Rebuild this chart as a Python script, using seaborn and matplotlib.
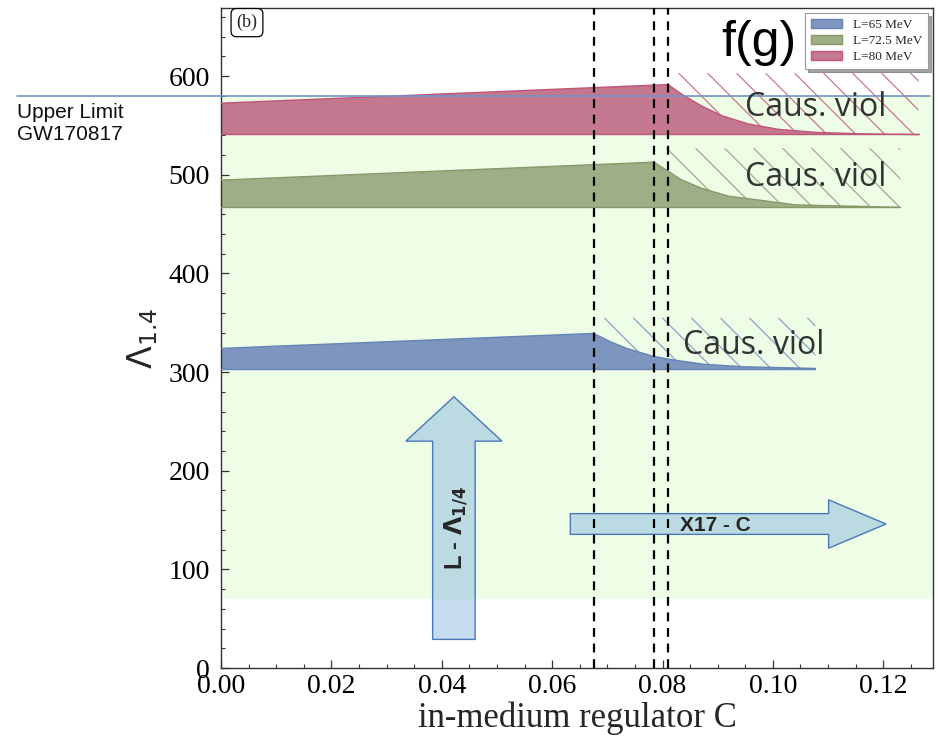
import numpy as np
import pandas as pd
import matplotlib
matplotlib.use("Agg")
import matplotlib.pyplot as plt
import seaborn as sns
from matplotlib.patches import FancyArrow, Patch
from matplotlib.lines import Line2D
from matplotlib.ticker import MultipleLocator

# ---------------- data ----------------
c65 = [0.0, 0.0675, 0.0705, 0.0735, 0.0783, 0.0814, 0.0874, 0.0946, 0.1077]
lam65 = [324.0, 339.2, 330.9, 324.0, 316.0, 312.8, 308.0, 305.4, 303.7]
base65 = 303.0
hatch_top65 = 355.0

c725 = [0.0, 0.0784, 0.0810, 0.0834, 0.0870, 0.0919, 0.0980, 0.1041, 0.1231]
lam725 = [494.6, 512.8, 503.7, 495.0, 486.5, 478.4, 474.0, 469.5, 467.0]
base725 = 467.0
hatch_top725 = 527.0

c80 = [0.0, 0.0810, 0.0834, 0.0870, 0.0907, 0.0956, 0.1011, 0.1078, 0.1164, 0.1264]
lam80 = [572.6, 591.5, 582.0, 570.0, 560.0, 551.5, 546.0, 543.0, 541.5, 540.8]
base80 = 541.0
hatch_top80 = 603.0

series_labels = ["L=65 MeV", "L=72.5 MeV", "L=80 MeV"]
fill_colors = ["#7d95bf", "#9eae86", "#c47890"]
edge_colors = ["#6584b5", "#85996a", "#c0557a"]
hatch_colors = ["#7d95bf", "#8ea07a", "#c4607e"]

upper_limit = 580.0
green_band = (70.0, 580.0)
vlines_c = [0.0675, 0.0785, 0.0810]

caus_pos = [(0.0966, 327.0), (0.1077, 497.6), (0.1077, 568.6)]

# ---------------- figure ----------------
sns.set_theme(style="ticks")
plt.rcParams["font.family"] = ["Liberation Serif", "DejaVu Sans"]
plt.rcParams["mathtext.fontset"] = "dejavusans"

fig = plt.figure(figsize=(9.38, 7.37), dpi=100)
ax = fig.add_axes([0.2356, 0.0936, 0.759, 0.8954])

ax.set_xlim(0, 0.129)
ax.set_ylim(0, 669)

# green allowed region
ax.axhspan(green_band[0], green_band[1], color="#eefde6", zorder=0, lw=0)

# upper limit line, extends into left margin
ax.axhline(upper_limit, xmin=-0.2865, xmax=0.9958, color="#6f95c2", lw=1.2,
           clip_on=False, zorder=5)

bands = [
    (c65, lam65, base65, hatch_top65),
    (c725, lam725, base725, hatch_top725),
    (c80, lam80, base80, hatch_top80),
]

W_px, H_px = 712.0, 660.0
spacing = 29.0 / W_px
for i, (cx, ly, base, htop) in enumerate(bands):
    cx = np.asarray(cx); ly = np.asarray(ly)
    ax.fill_between(cx, base, ly, facecolor=fill_colors[i], edgecolor="none", zorder=2)
    df = pd.DataFrame({"C": cx, "Lambda": ly})
    sns.lineplot(data=df, x="C", y="Lambda", ax=ax, color=edge_colors[i], lw=1.0,
                 zorder=3, estimator=None, sort=False)
    ax.plot([cx[0], cx[-1]], [base, base], color=edge_colors[i], lw=1.0, zorder=3)
    # hatched causality-violation region above the falling part
    k = int(np.argmax(ly))
    hx = cx[k:]; hy = ly[k:]
    coll = ax.fill_between(hx, hy, htop, facecolor="none", edgecolor="none", zorder=1)
    path = coll.get_paths()[0]
    for u in np.arange(-1.2, 1.2, spacing):
        ln = Line2D([u, u + H_px / W_px], [1.0, 0.0], transform=ax.transAxes,
                    color=hatch_colors[i], lw=0.9, alpha=0.85, zorder=1)
        ax.add_line(ln)
        ln.set_clip_path(path, ax.transData)

ax.set_xlabel("")
ax.set_ylabel("")

# dashed vertical lines
for xv in vlines_c:
    ax.axvline(xv, color="black", lw=1.6, ls=(0, (4, 3)), zorder=6)

# Causality violation labels
for (xc, yc) in caus_pos:
    ax.text(xc, yc, "Caus. viol", ha="center", va="center", fontsize=23,
            family=["Open Sans", "DejaVu Sans"], color="#333333", zorder=7)

# arrows
up = FancyArrow(0.0422, 29.0, 0.0, 246.0, width=0.0077, head_width=0.0174,
                head_length=45.0, length_includes_head=True,
                facecolor=(0.55, 0.72, 0.87, 0.5), edgecolor="#4a78b8", lw=1.0, zorder=4)
ax.add_patch(up)
right = FancyArrow(0.0633, 146.0, 0.0572, 0.0, width=21.0, head_width=49.0,
                   head_length=0.0104, length_includes_head=True,
                   facecolor=(0.55, 0.72, 0.87, 0.5), edgecolor="#4a78b8", lw=1.0, zorder=4)
ax.add_patch(right)
ax.text(0.0426, 142.0, r"L - $\mathbf{\Lambda_{1/4}}$", rotation=90, ha="center", va="center",
        fontsize=17, fontweight="bold", family=["Liberation Sans", "DejaVu Sans"], zorder=8)
ax.text(0.0895, 144.5, "X17 - C", ha="center", va="center", fontsize=15,
        fontweight="bold", family=["Liberation Sans", "DejaVu Sans"], zorder=8)

# f(g) label
ax.text(0.0906, 634.0, "f(g)", ha="left", va="center", fontsize=36,
        family=["Liberation Sans", "DejaVu Sans"], color="black", zorder=8)

# (b) label
ax.text(0.0365, 0.978, "(b)", transform=ax.transAxes, ha="center", va="center",
        fontsize=13, family=["Liberation Serif"],
        bbox=dict(boxstyle="round,pad=0.3", fc="white", ec="black", lw=0.9), zorder=8)

# Upper limit text in left margin
fig.text(0.018, 0.860, "Upper Limit\nGW170817", ha="left", va="top", fontsize=15,
         family=["Liberation Sans", "DejaVu Sans"], color="#111111", linespacing=1.2)

# legend
handles = [Patch(facecolor=fill_colors[i], edgecolor=edge_colors[i], lw=1.0)
           for i in range(3)]
leg = ax.legend(handles, series_labels, loc="upper right",
                prop={"family": "Liberation Serif", "size": 9.5},
                frameon=True, fancybox=False, shadow=True, borderaxespad=0.35,
                handlelength=2.4, handletextpad=0.8, labelspacing=0.3, borderpad=0.45)
leg.get_frame().set_edgecolor("#999999")
leg.get_frame().set_linewidth(0.8)
leg.set_zorder(10)

# axes styling
ax.set_xlabel("in-medium regulator C", fontsize=25, family=["Liberation Serif"], labelpad=2)
ax.set_ylabel(r"$\Lambda_{1.4}$", fontsize=24, labelpad=6)
ax.xaxis.set_major_locator(MultipleLocator(0.02))
ax.xaxis.set_minor_locator(MultipleLocator(0.005))
ax.yaxis.set_major_locator(MultipleLocator(100))
ax.yaxis.set_minor_locator(MultipleLocator(20))
ax.set_xticks(np.arange(0, 0.121, 0.02))
ax.set_xticklabels([f"{v:.2f}" for v in np.arange(0, 0.121, 0.02)])
ax.tick_params(axis="both", which="major", direction="in", length=6, width=0.9,
               labelsize=20, colors="#333333", labelcolor="black")
ax.tick_params(axis="both", which="minor", direction="in", length=3, width=0.8, colors="#333333")
ax.tick_params(axis="x", pad=4)
ax.tick_params(axis="y", pad=8)
for lab in ax.get_xticklabels() + ax.get_yticklabels():
    lab.set_family("Liberation Serif")
for s in ax.spines.values():
    s.set_color("#333333")
    s.set_linewidth(1.0)
ax.set_facecolor("white")

fig.savefig("out.png", dpi=100)
